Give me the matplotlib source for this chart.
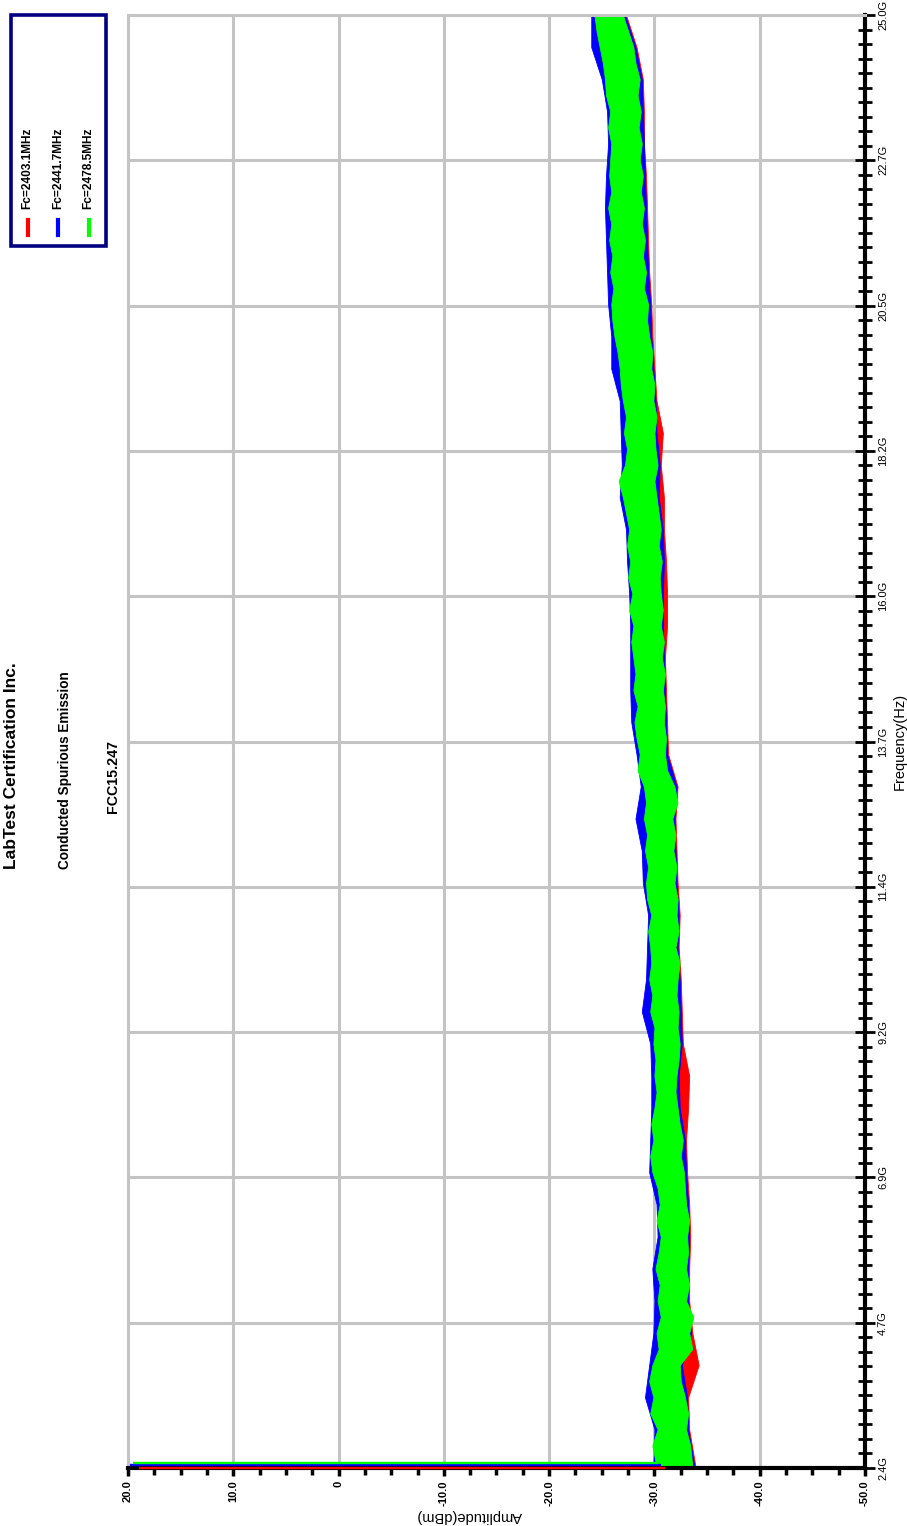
import numpy as np
import matplotlib
matplotlib.use("Agg")
import matplotlib.pyplot as plt
from matplotlib.patches import Rectangle
from matplotlib.lines import Line2D

plt.rcParams['font.family'] = ['Liberation Sans', 'DejaVu Sans']

# ---------------- data ----------------
# frequency grid (GHz) for the combined (green) trace envelope
f_g = [2.42, 2.75, 3.0, 3.25, 3.5, 3.75, 4.0, 4.25, 4.5, 4.75, 5.0, 5.25, 5.5, 5.75,
       6.0, 6.25, 6.5, 6.75, 7.0, 7.25, 7.5, 7.75, 8.0, 8.25, 8.5, 8.75, 9.0, 9.25,
       9.5, 9.75, 10.0, 10.25, 10.5, 10.75, 11.0, 11.25, 11.5, 11.75, 12.0, 12.25,
       12.5, 12.75, 13.0, 13.25, 13.5, 13.75, 14.0, 14.25, 14.5, 14.75, 15.0, 15.25,
       15.5, 15.75, 16.0, 16.25, 16.5, 16.75, 17.0, 17.25, 17.5, 17.75, 18.0, 18.25,
       18.5, 18.75, 19.0, 19.25, 19.5, 19.75, 20.0, 20.25, 20.5, 20.75, 21.0, 21.25,
       21.5, 21.75, 22.0, 22.25, 22.5, 22.75, 23.0, 23.25, 23.5, 23.75, 24.0, 24.25,
       24.5, 24.75, 25.0]
green_hi = [-30.2, -29.8, -30.3, -29.6, -29.9, -29.5, -29.8, -30.4, -30.2, -30.6, -30.3, -30.5,
            -30.1, -30.4, -30.6, -30.2, -30.5, -30.3, -29.8, -29.6, -29.9, -29.7, -30.0, -30.2,
            -30.0, -30.1, -29.9, -30.0, -29.6, -29.8, -29.5, -29.7, -29.6, -29.4, -29.7, -29.3,
            -29.2, -29.4, -29.1, -29.3, -29.0, -29.2, -29.0, -28.4, -28.6, -28.3, -28.1, -28.4,
            -28.0, -28.2, -28.0, -27.8, -28.0, -27.6, -27.9, -27.5, -27.7, -27.4, -27.6, -27.3,
            -27.0, -26.6, -27.2, -27.4, -27.1, -27.3, -27.0, -26.8, -26.7, -26.5, -26.2, -26.0,
            -25.9, -26.1, -25.8, -26.0, -25.7, -25.9, -25.6, -25.9, -25.7, -25.8, -25.9, -25.6,
            -25.8, -25.4, -25.3, -25.1, -24.8, -24.5, -24.3]
green_lo = [-33.6, -33.4, -33.0, -33.2, -32.9, -32.5, -32.4, -33.6, -33.3, -33.7, -33.0, -33.3,
            -33.0, -33.2, -33.1, -33.3, -33.0, -32.9, -32.8, -32.5, -32.7, -32.4, -32.2, -32.0,
            -32.1, -32.3, -32.4, -32.2, -32.3, -32.1, -32.2, -32.4, -32.0, -32.3, -32.1, -32.2,
            -31.9, -32.1, -31.8, -32.0, -31.7, -32.2, -31.9, -31.2, -31.0, -31.1, -30.9, -31.0,
            -30.8, -31.0, -30.7, -30.9, -30.6, -30.8, -30.6, -30.5, -30.7, -30.4, -30.6, -30.4,
            -30.2, -30.0, -30.3, -30.1, -30.0, -30.2, -29.9, -30.0, -29.7, -29.8, -29.5, -29.3,
            -29.4, -29.0, -29.2, -28.9, -29.1, -28.8, -29.0, -28.7, -28.9, -28.6, -28.8, -28.5,
            -28.7, -28.4, -28.6, -28.2, -28.0, -27.5, -27.0]

# coarser grid for the red / blue traces
f_rb = [2.42, 3.0, 3.5, 4.0, 4.5, 5.0, 5.5, 6.0, 6.5, 7.0, 7.5, 8.0, 8.5, 9.0, 9.5, 10.0,
        10.5, 11.0, 11.5, 12.0, 12.5, 13.0, 13.5, 14.0, 14.5, 15.0, 15.5, 16.0, 16.5, 17.0,
        17.5, 18.0, 18.5, 19.0, 19.5, 20.0, 20.5, 21.0, 21.5, 22.0, 22.5, 23.0, 23.5, 24.0,
        24.5, 25.0]
blue_hi = [-29.9, -30.0, -29.1, -29.5, -29.9, -30.0, -29.8, -30.3, -30.2, -29.5, -29.6, -29.7,
           -29.7, -29.6, -28.8, -29.2, -29.3, -29.4, -28.9, -28.8, -28.2, -28.7, -28.3, -27.8,
           -27.7, -27.7, -27.7, -27.6, -27.4, -27.3, -26.7, -26.9, -26.8, -26.7, -25.9, -25.9,
           -25.6, -25.5, -25.4, -25.3, -25.4, -25.6, -25.5, -25.0, -24.0, -24.0]
blue_lo = [-33.8, -33.2, -33.1, -32.6, -33.5, -33.2, -33.2, -33.3, -33.2, -33.0, -32.9, -32.4,
           -32.3, -32.6, -32.5, -32.4, -32.2, -32.3, -32.1, -32.0, -31.9, -32.1, -31.2, -31.1,
           -31.0, -30.9, -30.8, -30.8, -30.9, -30.8, -30.4, -30.5, -30.2, -30.1, -29.9, -29.7,
           -29.6, -29.4, -29.3, -29.2, -29.1, -29.0, -28.9, -28.8, -28.2, -27.2]
red_hi = [-30.1, -30.2, -29.8, -29.7, -30.1, -30.2, -30.0, -30.5, -30.4, -29.7, -29.8, -29.9,
          -29.9, -29.8, -29.5, -29.4, -29.5, -29.6, -29.1, -29.0, -28.9, -28.9, -28.5, -28.0,
          -27.9, -27.9, -27.9, -27.8, -27.6, -27.5, -26.9, -27.1, -27.0, -26.9, -26.6, -26.1,
          -25.8, -25.7, -25.6, -25.5, -25.6, -25.8, -25.7, -25.2, -24.7, -24.2]
red_lo = [-33.9, -33.3, -33.2, -34.2, -33.6, -33.3, -33.3, -33.4, -33.3, -33.1, -33.0, -33.2,
          -33.3, -32.7, -32.6, -32.5, -32.3, -32.4, -32.2, -32.1, -32.0, -32.2, -31.3, -31.2,
          -31.1, -31.0, -31.2, -31.2, -31.1, -30.9, -30.9, -30.6, -30.8, -30.2, -30.0, -29.8,
          -29.7, -29.5, -29.4, -29.3, -29.2, -29.0, -29.0, -28.9, -28.3, -27.3]

# carrier peaks near the start of the sweep
carrier_freq = [2.4031, 2.4417, 2.4785]   # GHz
carrier_base = [-31.0, -30.6, -30.3]      # dBm
carrier_peak = [19.0, 19.8, 19.5]         # dBm

legend_labels = ["Fc=2403.1MHz", "Fc=2441.7MHz", "Fc=2478.5MHz"]
trace_colors = ["#ff0000", "#0000ff", "#00ff00"]

amp_ticks = [20, 10, 0, -10, -20, -30, -40, -50]
amp_labels = ["20.0", "10.0", "0", "-10.0", "-20.0", "-30.0", "-40.0", "-50.0"]
freq_labels = ["2.4G", "4.7G", "6.9G", "9.2G", "11.4G", "13.7G", "16.0G", "18.2G",
               "20.5G", "22.7G", "25.0G"]
f_start, f_stop = 2.4, 25.0

# ---------------- figure ----------------
W, H = 907, 1526
fig = plt.figure(figsize=(W / 100, H / 100), dpi=100)


def fx(x):
    return x / W


def fy(y):
    return 1 - y / H


L, R, T, B = 128, 865, 15, 1468
ax = fig.add_axes([fx(L), fy(B), (R - L) / W, (B - T) / H])
ax.set_xlim(20, -50)
ax.set_ylim(f_start, f_stop)

grid_c = "#c4c4c4"
ax.set_axisbelow(True)
ax.grid(True, which="major", color=grid_c, lw=2.2)

# traces (bands: red, blue, green on top)
ax.fill_betweenx(f_rb, red_lo, red_hi, color=trace_colors[0], lw=0.6, zorder=3)
ax.fill_betweenx(f_rb, blue_lo, blue_hi, color=trace_colors[1], lw=0.6, zorder=4)
ax.fill_betweenx(f_g, green_lo, green_hi, color=trace_colors[2], lw=0.6, zorder=5)
for fc, b, p, c in zip(carrier_freq, carrier_base, carrier_peak, trace_colors):
    ax.plot([b, p], [fc, fc], color=c, lw=1.7, zorder=9, solid_capstyle="butt",
            clip_on=False)

# spines
ax.spines["left"].set_color(grid_c)
ax.spines["left"].set_linewidth(2.2)
ax.spines["top"].set_color(grid_c)
ax.spines["top"].set_linewidth(2.2)
ax.spines["right"].set_color("black")
ax.spines["right"].set_linewidth(3)
ax.spines["bottom"].set_color("black")
ax.spines["bottom"].set_linewidth(3)
for s in ax.spines.values():
    s.set_zorder(7)

# amplitude axis (bottom)
ax.set_xticks(amp_ticks)
ax.set_xticklabels(amp_labels, rotation=90, fontsize=8, fontweight="bold")
ax.set_xticks(np.arange(20, -50.1, -2.5), minor=True)
ax.tick_params(axis="x", which="major", direction="out", length=6, width=2.5, pad=3)
ax.tick_params(axis="x", which="minor", direction="out", length=5, width=2.5)

# frequency axis (right)
ax.yaxis.tick_right()
ax.set_yticks(np.linspace(f_start, f_stop, 11))
ax.set_yticklabels(freq_labels, rotation=90, fontsize=8, va="center")
ax.set_yticks(np.linspace(f_start, f_stop, 101), minor=True)
ax.tick_params(axis="y", which="major", direction="inout", length=15, width=2, pad=2)
ax.tick_params(axis="y", which="minor", direction="inout", length=10, width=2)
ax.tick_params(left=False, which="both")

# axis titles
fig.text(fx(469), fy(1516), "Amplitude(dBm)", rotation=180, ha="center", va="center",
         fontsize=10.5)
fig.text(fx(900), fy(741), "Frequency(Hz)", rotation=90, ha="center", va="center",
         fontsize=10.5)

# titles
fig.text(fx(12), fy(766), "LabTest Certification Inc.", rotation=90, ha="center",
         va="center", fontsize=12.5, fontweight="bold")
fig.text(fx(65), fy(770), "Conducted Spurious Emission", rotation=90, ha="center",
         va="center", fontsize=9.8, fontweight="bold")
fig.text(fx(113), fy(776), "FCC15.247", rotation=90, ha="center", va="center",
         fontsize=10.3, fontweight="bold")

# legend box
fig.add_artist(Rectangle((fx(11), fy(246)), (106 - 11) / W, (246 - 15) / H,
                         transform=fig.transFigure, facecolor="white",
                         edgecolor="#000080", lw=2.6))
for i, (lab, c) in enumerate(zip(legend_labels, trace_colors)):
    x = 27.5 + 30.5 * i
    fig.text(fx(x), fy(168), lab, rotation=90, ha="center", va="center",
             fontsize=8.6, fontweight="bold")
    fig.add_artist(Line2D([fx(x), fx(x)], [fy(220), fy(235)], color=c, lw=3,
                          transform=fig.transFigure))

fig.savefig("out.png", dpi=100)
